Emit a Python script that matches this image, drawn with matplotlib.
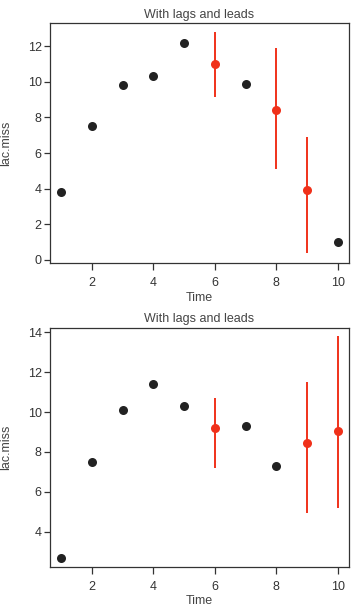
import matplotlib
matplotlib.use("Agg")
import matplotlib.pyplot as plt
import numpy as np

plt.rcParams['font.family'] = ['Liberation Sans', 'DejaVu Sans']

# top panel: observed values and imputed ones (with intervals)
top_obs_t = [1, 2, 3, 4, 5, 7, 10]
top_obs_y = [3.8, 7.5, 9.8, 10.3, 12.2, 9.9, 1.0]
top_imp_t = [6, 8, 9]
top_imp_y = [11.0, 8.4, 3.9]
top_imp_lo = [9.15, 5.08, 0.37]
top_imp_hi = [12.8, 11.87, 6.88]

# bottom panel
bot_obs_t = [1, 2, 3, 4, 5, 7, 8]
bot_obs_y = [2.68, 7.5, 10.1, 11.4, 10.3, 9.3, 7.3]
bot_imp_t = [6, 9, 10]
bot_imp_y = [9.2, 8.45, 9.07]
bot_imp_lo = [7.2, 4.95, 5.2]
bot_imp_hi = [10.72, 11.5, 13.8]

dark = '#333333'
red = '#f0311a'

fig = plt.figure(figsize=(3.59, 6.15), dpi=100)
ax1 = fig.add_axes([0.139, 0.5724, 0.833, 0.390])
ax2 = fig.add_axes([0.139, 0.0785, 0.833, 0.3886])


def panel(ax, ot, oy, it, iy, lo, hi, ylim, yticks):
    ax.vlines(it, lo, hi, color=red, lw=1.4, zorder=2)
    ax.plot(ot, oy, 'o', color='#222222', ms=6.5, mec='none', zorder=3)
    ax.plot(it, iy, 'o', color=red, ms=6.5, mec='none', zorder=3)
    ax.set_xlim(0.64, 10.36)
    ax.set_ylim(*ylim)
    ax.set_xticks([2, 4, 6, 8, 10])
    ax.set_yticks(yticks)
    ax.tick_params(direction='out', width=0.9, colors=dark,
                   labelsize=9, labelcolor=dark)
    ax.tick_params(axis='x', length=5, pad=5)
    ax.tick_params(axis='y', length=4, pad=2)
    for s in ax.spines.values():
        s.set_color(dark)
        s.set_linewidth(0.9)
    ax.set_title('With lags and leads', fontsize=9, color='#444444', pad=4)
    ax.set_xlabel('Time', fontsize=9, color='#444444', labelpad=2)
    ax.set_ylabel('lac.miss', fontsize=9, color='#444444')
    ax.yaxis.set_label_coords(-0.125, 0.5)


panel(ax1, top_obs_t, top_obs_y, top_imp_t, top_imp_y, top_imp_lo, top_imp_hi,
      (-0.17, 13.29), [0, 2, 4, 6, 8, 10, 12])
panel(ax2, bot_obs_t, bot_obs_y, bot_imp_t, bot_imp_y, bot_imp_lo, bot_imp_hi,
      (2.245, 14.23), [4, 6, 8, 10, 12, 14])

fig.savefig('out.png', dpi=100)
